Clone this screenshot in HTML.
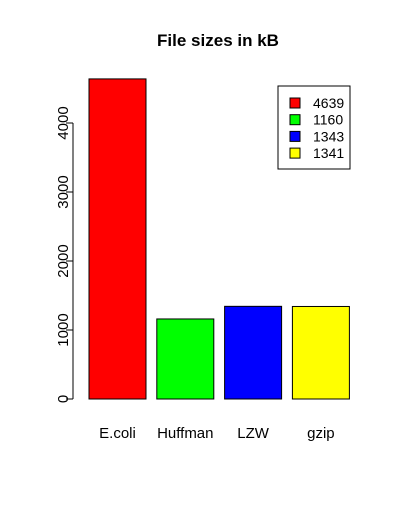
<!DOCTYPE html>
<html><head><style>
body{margin:0;background:#fff}
svg text{font-family:"Liberation Sans",sans-serif}
</style></head><body>
<svg id="chart" width="400" height="500" xmlns="http://www.w3.org/2000/svg">
<text x="218" y="46" text-anchor="middle" font-size="17" font-weight="bold">File sizes in kB</text>
<g id="bars"></g>
<g id="yaxis"></g>
<g id="xlabels"></g>
<g id="legend"></g>
</svg>
<script>
const categories=["E.coli","Huffman","LZW","gzip"];
const values=[4639,1160,1343,1341];
const colors=["#ff0000","#00ff00","#0000ff","#ffff00"];
const yTicks=[0,1000,2000,3000,4000];
const NS="http://www.w3.org/2000/svg";
function y(v){return 399-v*0.069;}
function xb(i){return 89+i*67.8;}
const bw=57;
function mk(tag,attrs,parent){const e=document.createElementNS(NS,tag);for(const k in attrs)e.setAttribute(k,attrs[k]);document.getElementById(parent).appendChild(e);return e;}
values.forEach((v,i)=>{
 const r=mk("rect",{x:xb(i),y:y(v),width:bw,height:y(0)-y(v),fill:colors[i],stroke:"#000","stroke-width":1},"bars");
 
 
 const t=mk("text",{x:xb(i)+bw/2,y:438,"text-anchor":"middle","font-size":15},"xlabels");
 t.textContent=categories[i];
 
 
});
mk("line",{x1:73,x2:73,y1:y(0),y2:y(4000),stroke:"#000"},"yaxis");
yTicks.forEach(v=>{
 mk("line",{x1:66,x2:73,y1:y(v),y2:y(v),stroke:"#000"},"yaxis");
 const t=mk("text",{x:0,y:0,"text-anchor":"middle","font-size":15,transform:`translate(68,${y(v)}) rotate(-90)`},"yaxis");
 t.textContent=v;
 
 
});
mk("rect",{x:278,y:86,width:72,height:83,fill:"#fff",stroke:"#000"},"legend");
values.forEach((v,i)=>{
 const yy=103+i*16.7;
 const s=mk("rect",{x:290,y:yy-5,width:10,height:10,fill:colors[i],stroke:"#000"},"legend");
 
 
 const t=mk("text",{x:313,y:yy+5,"font-size":14},"legend");
 t.textContent=v;
 
 
});
</script>
</body></html>
